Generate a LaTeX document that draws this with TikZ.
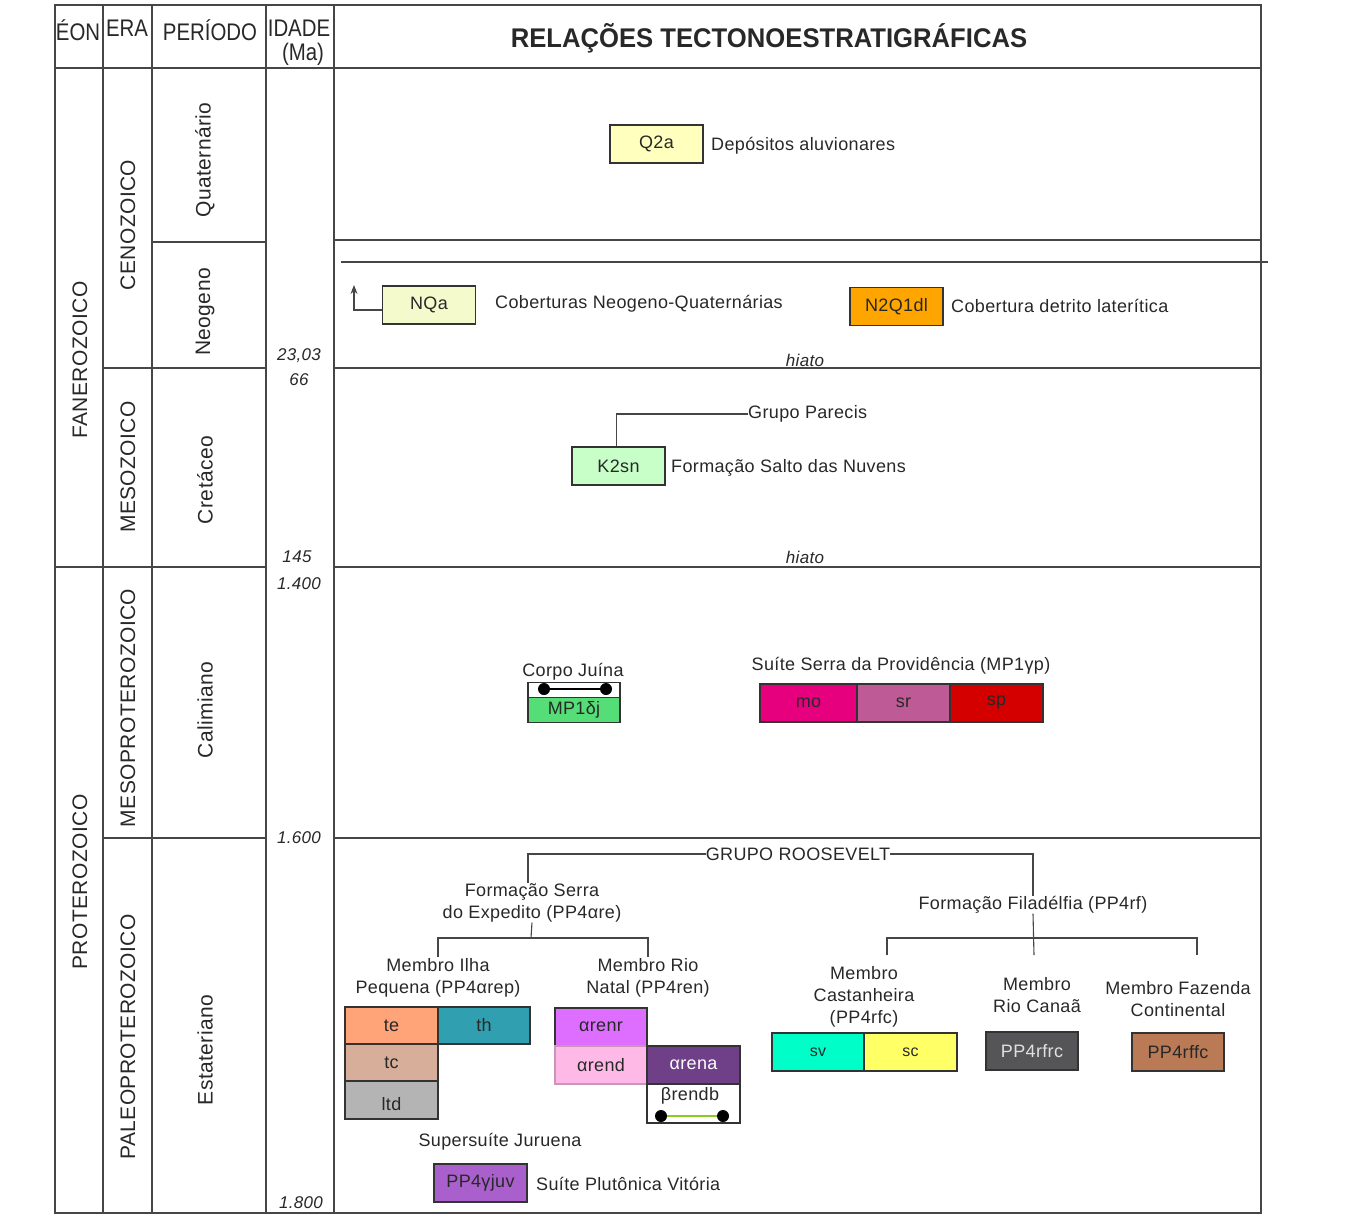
\documentclass[tikz,border=0pt]{standalone}
\usepackage{fontspec}
\setmainfont[LetterSpace=2]{Liberation Sans}
\newfontfamily\narrowfont[FakeStretch=0.85]{Liberation Sans}
\newfontfamily\titlefont[FakeStretch=0.95]{Liberation Sans}
\usetikzlibrary{arrows,arrows.meta}

\definecolor{linegray}{RGB}{70,70,70}
\definecolor{textgray}{RGB}{40,40,40}
\definecolor{cqa}{RGB}{255,255,190}
\definecolor{cnqa}{RGB}{245,250,205}
\definecolor{cndl}{RGB}{255,165,0}
\definecolor{cksn}{RGB}{200,255,200}
\definecolor{cmpj}{RGB}{85,221,119}
\definecolor{cmo}{RGB}{230,0,126}
\definecolor{csr}{RGB}{190,90,150}
\definecolor{csp}{RGB}{212,0,0}
\definecolor{cte}{RGB}{255,164,120}
\definecolor{cth}{RGB}{48,160,176}
\definecolor{ctc}{RGB}{214,174,154}
\definecolor{cltd}{RGB}{180,180,180}
\definecolor{crenr}{RGB}{221,110,255}
\definecolor{crend}{RGB}{255,185,230}
\definecolor{crena}{RGB}{111,63,135}
\definecolor{cjuv}{RGB}{170,96,204}
\definecolor{csv}{RGB}{0,255,200}
\definecolor{csc}{RGB}{255,255,102}
\definecolor{crfrc}{RGB}{85,85,88}
\definecolor{crffc}{RGB}{185,122,85}
\definecolor{cdyke}{RGB}{136,204,34}

\begin{document}
\begin{tikzpicture}[x=1pt,y=-1pt,line join=miter,text=textgray,
  frame/.style={draw=linegray,line width=1.3pt},
  conn/.style={draw=linegray,line width=1.1pt},
  unitbox/.style={draw=black!80,line width=1.1pt,minimum width=93pt,minimum height=38pt,inner sep=0pt,font=\fontsize{18}{20}\selectfont},
  txt/.style={inner sep=0pt,font=\fontsize{18}{22}\selectfont,align=center},
  vtxt/.style={rotate=90,inner sep=0pt,font=\fontsize{21}{24}\selectfont},
  agetxt/.style={inner sep=0pt,font=\itshape\fontsize{17}{19}\selectfont},
  headtxt/.style={inner sep=0pt,font=\narrowfont\fontsize{24}{26}\selectfont},
  dot/.style={circle,fill=black,inner sep=0pt,minimum size=12pt}]
  \useasboundingbox (0,0) rectangle (1358,1218);

  \draw[frame] (55,5) rectangle (1261,1213);
  \draw[frame] (55,68) -- (1261,68);
  \foreach \xl in {103,152,266,334}
    \draw[frame] (\xl,5) -- (\xl,1213);
  \draw[frame] (152,242) -- (266,242);
  \draw[frame] (334,240) -- (1261,240);
  \draw[frame] (341,262) -- (1268,262);
  \draw[frame] (103,368) -- (266,368) (334,368) -- (1261,368);
  \draw[frame] (55,567) -- (266,567) (334,567) -- (1261,567);
  \draw[frame] (103,838) -- (266,838) (334,838) -- (1261,838);

  \node[headtxt] (eon) at (78,30) {ÉON};
  \node[headtxt] (era) at (127,28) {ERA};
  \node[headtxt] (periodo) at (210,30) {PERÍODO};
  \node[headtxt] (idade) at (299,28) {IDADE};
  \node[headtxt] (ma) at (303,54) {(Ma)};
  \node[inner sep=0pt,font=\titlefont\bfseries\fontsize{27}{30}\selectfont] (title) at (769,38) {RELAÇÕES TECTONOESTRATIGRÁFICAS};

  \node[vtxt] (fanero) at (80,360) {FANEROZOICO};
  \node[vtxt] (protero) at (80,882) {PROTEROZOICO};
  \node[vtxt] (ceno) at (128,225) {CENOZOICO};
  \node[vtxt] (meso) at (128,467) {MESOZOICO};
  \node[vtxt] (mesoprot) at (128,708) {MESOPROTEROZOICO};
  \node[vtxt] (paleoprot) at (128,1037) {PALEOPROTEROZOICO};
  \node[vtxt] (quat) at (205,160) {Quaternário};
  \node[vtxt] (neog) at (205,312) {Neogeno};
  \node[vtxt] (cret) at (205,480) {Cretáceo};
  \node[vtxt] (calim) at (205,710) {Calimiano};
  \node[vtxt] (estat) at (205,1050) {Estateriano};

  \node[agetxt] (a1) at (299,356) {23,03};
  \node[agetxt] (a2) at (299,380) {66};
  \node[agetxt] (a3) at (297,557) {145};
  \node[agetxt] (a4) at (299,584) {1.400};
  \node[agetxt] (a5) at (299,838) {1.600};
  \node[agetxt] (a6) at (301,1203) {1.800};
  \node[agetxt] (hiato1) at (805,360) {hiato};
  \node[agetxt] (hiato2) at (805,557) {hiato};

  \node[unitbox,fill=cqa] (qa) at (656.5,144) {Q2a};
  \node[txt,anchor=west] (qatxt) at (711,146) {Depósitos aluvionares};

  \node[unitbox,fill=cnqa] (nqa) at (429,305) {NQa};
  \node[txt,anchor=west] (nqatxt) at (495,304) {Coberturas Neogeno-Quaternárias};
  \coordinate (nqatip) at (354,285);
  \draw[conn,-{Stealth[length=9pt,width=7pt]}] ([yshift=-5pt]nqa.west) -| (nqatip);
  \node[unitbox,fill=cndl] (ndl) at (896.5,306.5) {N2Q1dl};
  \node[txt,anchor=west] (ndltxt) at (951,306) {Cobertura detrito laterítica};

  \node[txt,anchor=west] (parecis) at (748,414) {Grupo Parecis};
  \node[unitbox,fill=cksn] (ksn) at (618.5,466) {K2sn};
  \node[txt,anchor=west] (ksntxt) at (671,468) {Formação Salto das Nuvens};
  \draw[conn] (parecis.west) -| ([xshift=-2pt]ksn.north);

  \node[txt] (corpo) at (573,672) {Corpo Juína};
  \node[unitbox,fill=white,minimum width=92pt,minimum height=15pt] (mpjtop) at (574,690) {};
  \node[unitbox,fill=cmpj,minimum width=92pt,minimum height=25pt] (mpj) at (574,710) {MP1δj};
  \node[dot] (ja) at (544,689) {};
  \node[dot] (jb) at (606,689) {};
  \draw[line width=1.5pt] (ja) -- (jb);

  \node[txt] (provid) at (901,666) {Suíte Serra da Providência (MP1γp)};
  \node[unitbox,fill=cmo,minimum width=97pt] (mo) at (808.5,703) {mo};
  \node[unitbox,fill=csr] (sr) at (903.5,703) {sr};
  \node[unitbox,fill=csp] (sp) at (996.5,703) {sp};

  \node[txt] (roosevelt) at (798,854) {GRUPO ROOSEVELT};
  \node[txt] (expedito) at (532,903) {Formação Serra\\do Expedito (PP4αre)};
  \node[txt] (filadelfia) at (1033,905) {Formação Filadélfia (PP4rf)};
  \draw[conn] (roosevelt.west) -| ([xshift=-4pt]expedito.north);
  \draw[conn] (roosevelt.east) -| (filadelfia.north);

  \node[txt] (ilha) at (438,978) {Membro Ilha\\Pequena (PP4αrep)};
  \node[txt] (natal) at (648,978) {Membro Rio\\Natal (PP4ren)};
  \coordinate (expj) at (531,938);
  \draw[conn] (expedito.south) -- (expj);
  \draw[conn] ([yshift=1pt]ilha.north) |- (expj) -| ([yshift=1pt]natal.north);

  \node[txt] (castanheira) at (864,997) {Membro\\Castanheira\\(PP4rfc)};
  \node[txt] (canaa) at (1037,995) {Membro\\Rio Canaã};
  \node[txt] (fazenda) at (1178,999) {Membro Fazenda\\Continental};
  \coordinate (filj) at (1034,938);
  \coordinate (filend) at (1034,955);
  \coordinate (castdrop) at (887,955);
  \coordinate (fazdrop) at (1197,955);
  \draw[conn] (filadelfia.south) -- (filend);
  \draw[conn] (castdrop) |- (filj) -| (fazdrop);

  \node[unitbox,fill=cte,minimum height=37pt] (te) at (391.5,1025.5) {te};
  \node[unitbox,fill=cth,minimum width=92pt,minimum height=37pt] (th) at (484,1025.5) {th};
  \node[unitbox,fill=ctc,minimum height=37pt] (tc) at (391.5,1062.5) {tc};
  \node[unitbox,fill=cltd,text depth=0pt] (ltd) at (391.5,1100) {\raisebox{-10pt}[0pt][0pt]{ltd}};

  \node[unitbox,fill=crenr,minimum width=92pt] (renr) at (601,1027) {αrenr};
  \node[unitbox,fill=crend,draw=crend!80!black,minimum width=92pt] (rend) at (601,1065) {αrend};
  \node[unitbox,fill=crena,text=white] (rena) at (693.5,1065) {αrena};
  \node[unitbox,fill=white,minimum height=39pt] (rendb) at (693.5,1103.5) {};
  \node[txt] (rendbtxt) at (690,1096) {βrendb};
  \node[dot] (da) at (661,1116) {};
  \node[dot] (db) at (723,1116) {};
  \draw[cdyke,line width=1.5pt] (da) -- (db);

  \node[txt] (juruena) at (500,1142) {Supersuíte Juruena};
  \node[unitbox,fill=cjuv] (juv) at (480.5,1183) {PP4γjuv};
  \node[txt,anchor=west] (juvtxt) at (536,1184) {Suíte Plutônica Vitória};

  \node[unitbox,fill=csv,minimum width=92pt,font=\fontsize{16}{18}\selectfont] (sv) at (818,1052) {sv};
  \node[unitbox,fill=csc,font=\fontsize{16}{18}\selectfont] (sc) at (910.5,1052) {sc};
  \node[unitbox,fill=crfrc,minimum width=92pt,text=black!12] (rfrc) at (1032,1051) {PP4rfrc};
  \node[unitbox,fill=crffc,minimum width=92pt] (rffc) at (1178,1052) {PP4rffc};
\end{tikzpicture}
\end{document}
